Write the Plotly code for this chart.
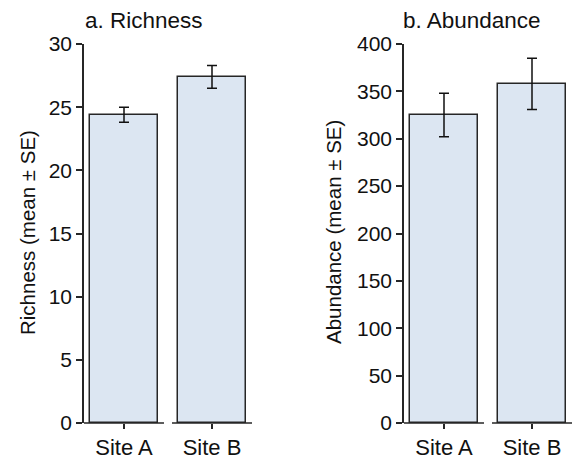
import plotly.graph_objects as go

# Per-site summaries
sites = ["Site A", "Site B"]
richness_mean = [24.4, 27.4]
richness_se = [0.6, 0.9]
abundance_mean = [325, 358]
abundance_se = [23, 27]

richness_ticks = [0, 5, 10, 15, 20, 25, 30]
abundance_ticks = [0, 50, 100, 150, 200, 250, 300, 350, 400]

W, H = 572, 459
FONT = "Liberation Sans, Arial, sans-serif"
INK = "#262626"
FILL = "#DCE6F2"
BAR_W = 0.773

fig = go.Figure()

def add_panel(xa, ya, means, ses):
    fig.add_trace(go.Bar(
        x=sites, y=means, width=BAR_W,
        xaxis=xa, yaxis=ya,
        marker=dict(color=FILL, line=dict(color=INK, width=1.5)),
        error_y=dict(type="data", array=ses, visible=True,
                     color="#111111", thickness=1.5, width=5),
        showlegend=False,
    ))

add_panel("x", "y", richness_mean, richness_se)
add_panel("x2", "y2", abundance_mean, abundance_se)

ydom = [36 / H, 415 / H]
xcommon = dict(type="category", showline=False, showgrid=False, zeroline=False,
               automargin=False,
               ticks="outside", ticklen=5, tickwidth=1.5, tickcolor=INK,
               tickfont=dict(family=FONT, size=22, color="#111111"))
ycommon = dict(showline=True, linecolor=INK, linewidth=1.5, showgrid=False,
               zeroline=False, automargin=False,
               ticks="outside", ticklen=6, tickwidth=1.5,
               tickcolor=INK, tickfont=dict(family=FONT, size=21, color="#111111"))

fig.update_layout(
    template="none",
    width=W, height=H,
    margin=dict(l=0, r=0, t=0, b=0, pad=0),
    paper_bgcolor="white", plot_bgcolor="white",
    bargap=0,
    xaxis=dict(domain=[84 / W, 256 / W], range=[-0.4545, 1.5], anchor="y", **xcommon),
    yaxis=dict(domain=ydom, range=[0, 30], tickvals=richness_ticks, anchor="x", **ycommon),
    xaxis2=dict(domain=[404 / W, 1.0], range=[-0.4545, 1.4545], anchor="y2", **xcommon),
    yaxis2=dict(domain=ydom, range=[0, 400], tickvals=abundance_ticks, anchor="x2", **ycommon),
)

# Broken baseline: one short segment under each category
for xr, yr in (("x", "y"), ("x2", "y2")):
    for i in range(len(sites)):
        fig.add_shape(type="line", xref=xr, yref=f"{yr} domain",
                      x0=i - 0.4545, x1=i + 0.4545, y0=0, y1=0,
                      line=dict(color=INK, width=1.5), layer="above")

def note(text, x, y, size, angle=0):
    fig.add_annotation(text=text, x=x / W, y=1 - y / H, xref="paper", yref="paper",
                       showarrow=False, textangle=angle, xanchor="center", yanchor="middle",
                       font=dict(family=FONT, size=size, color="#111111"))

note("a. Richness", 143.5, 20, 22.5)
note("b. Abundance", 472, 20, 22.5)
note("Richness (mean ± SE)", 27, 233, 20.5, -90)
note("Abundance (mean ± SE)", 333, 232, 20.5, -90)

fig.write_html("out.html")
